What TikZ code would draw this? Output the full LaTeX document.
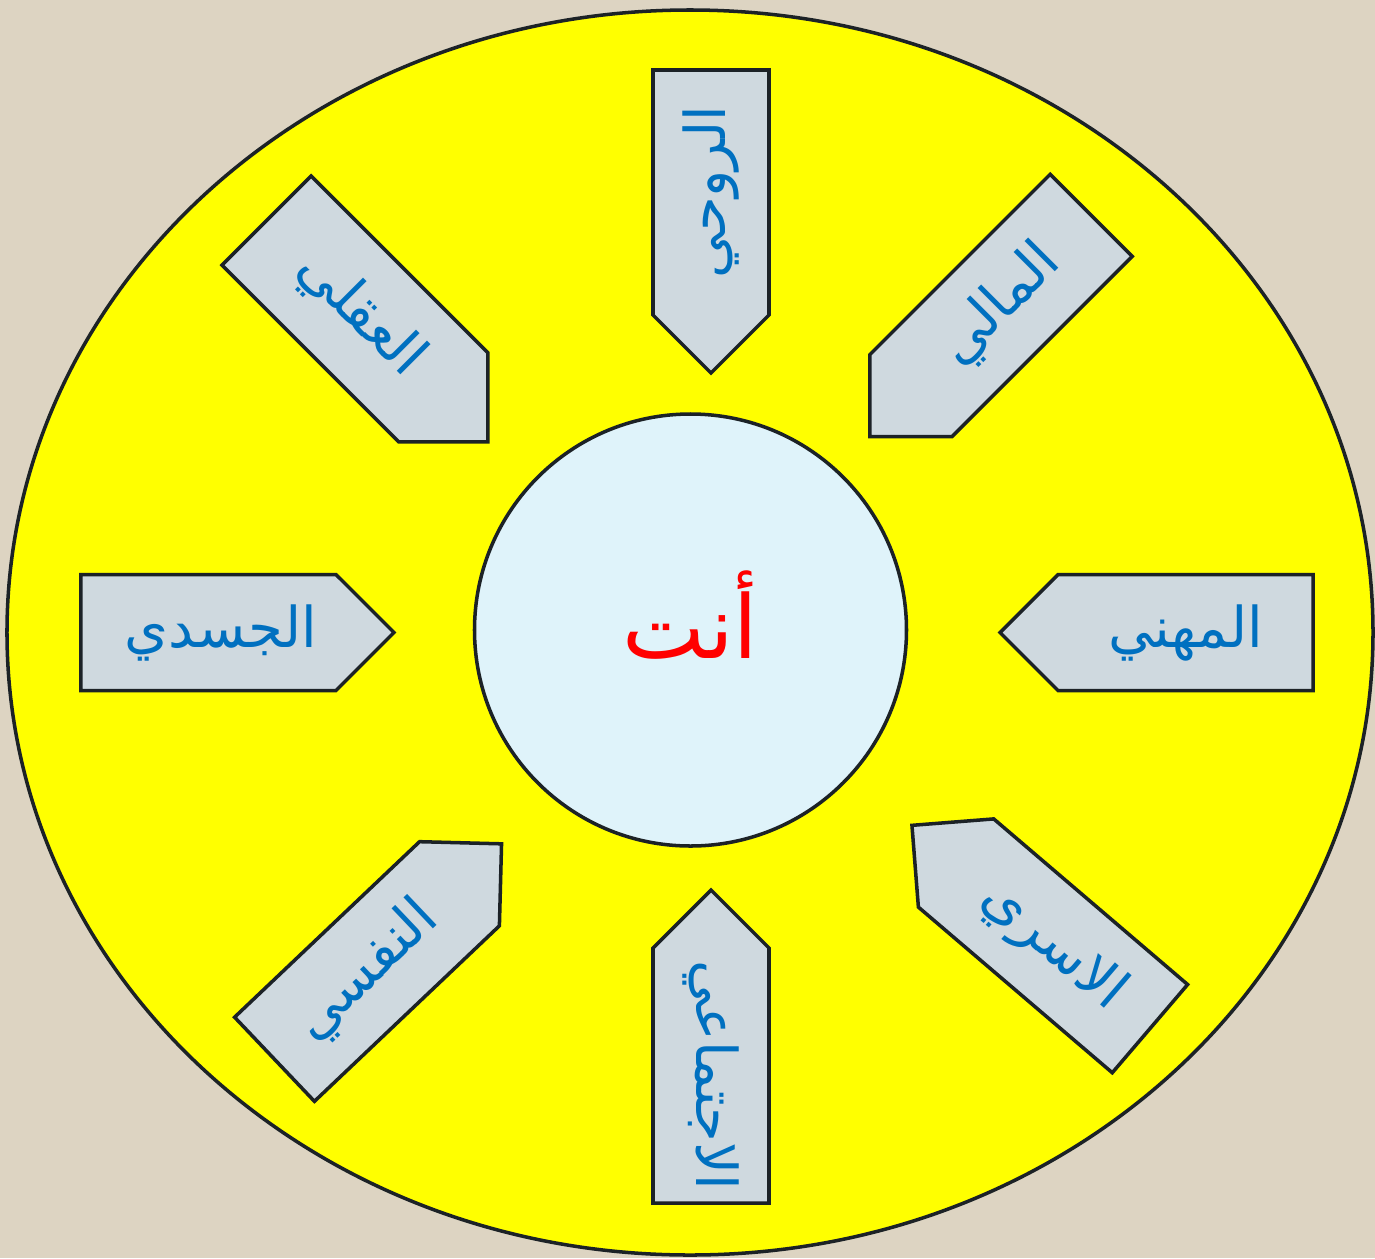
\documentclass[tikz,border=0pt]{standalone}
\usepackage{fontspec}
\usetikzlibrary{shapes.symbols}
\newfontfamily\arabicfont[Script=Arabic]{DejaVu Sans}
\TeXXeTstate=1
\definecolor{linen}{HTML}{DDD4C2}
\definecolor{sun}{HTML}{FFFF00}
\definecolor{slate}{HTML}{CFD9DF}
\definecolor{ice}{HTML}{DFF3FA}
\definecolor{ink}{HTML}{1C2226}
\definecolor{word}{HTML}{0070C0}

\begin{document}
\begin{tikzpicture}[
  tag/.style={signal, draw=ink, line width=1pt, fill=slate, minimum width=3.13cm, minimum height=1.16cm, inner sep=0pt, text=word, font=\arabicfont\fontsize{16}{19}\selectfont},
  you/.style={circle, draw=ink, line width=1pt, fill=ice, minimum size=4.32cm, text=red, font=\arabicfont\fontsize{25}{30}\selectfont}
]
  \fill[linen] (-6.90,-6.255) rectangle (6.85,6.325);
  \useasboundingbox (-6.90,-6.255) rectangle (6.85,6.325);
  \draw[ink, line width=1pt, fill=sun] (0,0) ellipse [x radius=6.83, y radius=6.225];

  \node[you] (self) at (0.005,0.025) {\raisebox{0.3cm}{\beginR أنت\endR}};

  % the eight sides of life
  \node[tag, signal to=east] (body) at (-4.815,0) {\hspace{0.25cm}\beginR الجسدي\endR};
  \node[tag, signal to=west] (career) at (4.955,0) {\beginR المهني\endR\hspace{0.1cm}};
  \node[tag, signal to=west, rotate=90, minimum width=3.03cm] (spirit) at (0.21,4.40) {\beginR الروحي\endR};
  \node[tag, signal to=west, rotate=-90] (social) at (0.21,-4.43) {\beginR الاجتماعي\endR};
  \node[tag, signal to=east, rotate=-45, minimum height=1.26cm] (mind) at (-3.35,3.235) {\hspace{0.15cm}\beginR العقلي\endR};
  \node[tag, signal to=west, rotate=45] (money) at (3.11,3.27) {\beginR المالي\endR};
  \node[tag, signal to=west, rotate=-40.5] (family) at (3.63,-3.133) {\beginR الاسري\endR};
  \node[tag, signal to=east, rotate=43.5] (psyche) at (-3.23,-3.39) {\beginR النفسي\endR};
\end{tikzpicture}
\end{document}
